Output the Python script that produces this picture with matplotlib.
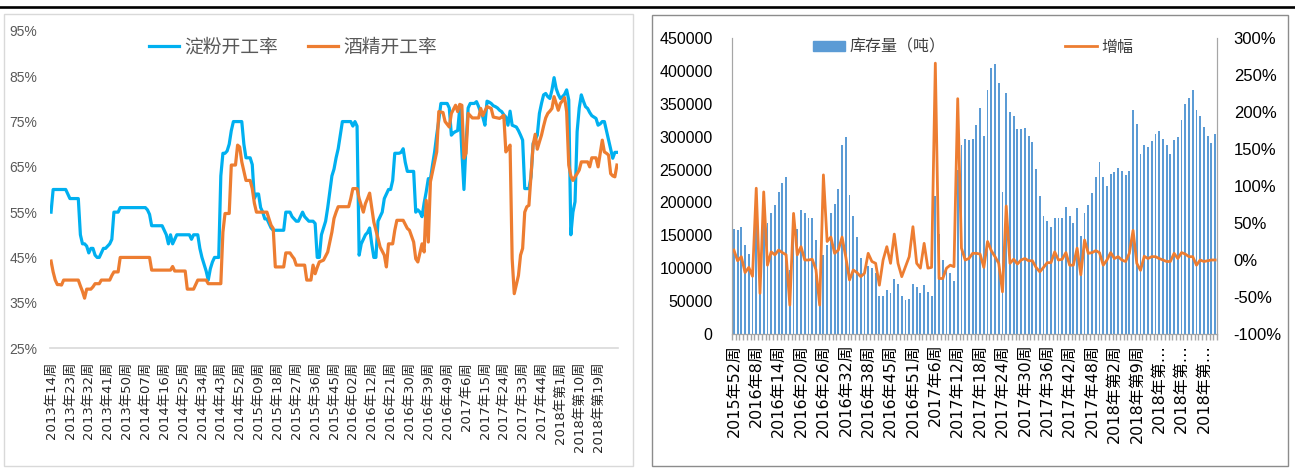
import numpy as np
import matplotlib.pyplot as plt
from matplotlib.patches import Rectangle, Patch
from matplotlib.lines import Line2D

plt.rcParams['font.family'] = ['Liberation Sans', 'Noto Sans CJK SC']

# ---- left chart: weekly operating rates (%) ----
starch = [55, 60, 60, 60, 60, 60, 60, 60, 59, 58,
          58, 58, 58, 58, 50, 48, 48, 47.5, 46, 47,
          47, 45.5, 45, 45, 46, 47, 47, 47.5, 48, 49,
          55, 55, 55, 56, 56, 56, 56, 56, 56, 56,
          56, 56, 56, 56, 56, 56, 55.5, 54.5, 52, 52,
          52, 52, 52, 52, 51, 50, 48, 50, 48, 49,
          50, 50, 50, 50, 50, 50, 50, 49, 50, 50,
          50, 47, 45, 43.5, 42, 40, 42.5, 44, 45, 45,
          45, 63, 68, 68, 68.5, 70, 73, 75, 75, 75,
          75, 75, 70, 67, 67, 67, 65.5, 58, 59, 59,
          56, 55, 53.5, 53.5, 52.5, 51.5, 51, 51, 51, 51,
          51, 51, 55, 55, 55, 54, 53.5, 53, 53, 54,
          55, 54, 53.5, 53, 53, 53, 52.5, 45, 45, 50,
          51.5, 53, 56, 59.5, 63, 64.5, 67, 69, 72, 75,
          75, 75, 75, 75, 74, 75, 74, 45.5, 48, 49,
          50, 50.5, 51.5, 48, 45, 45, 53, 54, 55, 58,
          59, 60, 60, 62, 68, 68, 68, 68.2, 69, 66,
          64, 64, 64, 64, 55, 55.5, 55, 54, 57, 59.5,
          62.4, 62.3, 65.4, 68.3, 72, 75.3, 79, 79, 79, 79,
          78, 72, 72.5, 72.8, 73, 78, 68.3, 60, 70, 78,
          79, 79, 79, 79.4, 78.3, 77, 76, 74.2, 79.5, 79.3,
          79, 78.5, 78.3, 78, 77.5, 77.2, 76.5, 76, 74.2, 77.3,
          74.2, 74, 73.8, 73, 72, 70.9, 60.2, 60.2, 60.2, 62.8,
          70.2, 71, 72, 76.8, 79, 80.9, 81.2, 80.5, 80.1, 82,
          84.7, 82.3, 81, 80.1, 80.5, 81, 82, 79.8, 50, 55,
          57.3, 72.8, 78, 80.9, 79.5, 78.3, 77.9, 77, 76.3, 76,
          75.7, 74.2, 74.5, 75, 75, 73, 70.9, 69, 66.9, 68.2,
          68.2]

alcohol = [44.2, 41.8, 40, 39, 39, 38.9, 40, 40, 40, 40,
           40, 40, 40, 40, 38.7, 37.5, 36, 38, 38, 38,
           38.5, 39.2, 39.2, 39.2, 40, 40, 40, 40, 40, 41,
           41.8, 41.8, 41.8, 45, 45, 45, 45, 45, 45, 45,
           45, 45, 45, 45, 45, 45, 45, 45, 42.2, 42.2,
           42.2, 42.2, 42.2, 42.2, 42.2, 42.2, 42.2, 42.2, 43, 42,
           42, 42, 42, 42, 42, 38, 38, 38, 38, 39,
           40, 40, 40, 40, 40, 39.2, 39.2, 39.2, 39.2, 39.2,
           39.2, 39.2, 50.6, 54.7, 54.7, 54.7, 65.4, 65.4, 65.4, 69.8,
           69.4, 66.1, 64, 62, 62, 62, 60.2, 57, 55, 55,
           55, 55, 55, 55, 53.5, 52.1, 51.4, 42.9, 42.9, 42.9,
           42.9, 42.9, 46, 46, 46, 45.3, 44.7, 43.3, 43.3, 43.3,
           43.3, 43.3, 40, 40, 40, 43.3, 41.4, 42.8, 44, 44.2,
           44.4, 45.3, 46.2, 48.4, 50.6, 53.6, 55, 56.2, 56.2, 56.2,
           56.2, 56.2, 56.2, 58, 60.2, 60.2, 60.2, 58, 56.5, 55,
           56.9, 58, 59.2, 56, 52.8, 51, 49.2, 47.3, 46.4, 45.5,
           42.9, 48, 48, 48, 51, 53.2, 53.2, 53.2, 53.2, 52.3,
           51.4, 51, 49.7, 48.4, 44.7, 44, 46, 48, 46.2, 57.6,
           48.4, 61.7, 63.9, 66, 68.3, 77.2, 77.1, 77, 75, 74.4,
           73.8, 76.8, 77.7, 78.6, 77.2, 78.8, 78.6, 66.9, 68, 76.8,
           76.3, 75.8, 75.8, 75.8, 75.8, 77.9, 76.3, 77.3, 78.3, 78.1,
           77.9, 76, 75.9, 75.8, 75.7, 76, 76.4, 68.3, 69, 69.8,
           44.7, 37, 39, 41, 45.5, 47, 55, 56.2, 56.5, 63,
           69.8, 72.2, 68.9, 70.5, 72, 74, 75.8, 76.8, 77.3, 77.9,
           80.5, 79, 77.5, 79, 79.6, 80.3, 77.2, 65.4, 63, 62,
           62.8, 63.5, 64.3, 66.1, 66.1, 66.1, 66.1, 65, 67, 67,
           67, 65, 68, 70.9, 68.3, 68, 67.6, 63.5, 63, 62.8,
           65.4]

left_labels = ["2013年14周", "2013年23周", "2013年32周", "2013年41周", "2013年50周",
               "2014年07周", "2014年16周", "2014年25周", "2014年34周", "2014年43周",
               "2014年52周", "2015年09周", "2015年18周", "2015年27周", "2015年36周",
               "2015年45周", "2016年02周", "2016年12周", "2016年21周", "2016年30周",
               "2016年39周", "2016年49周", "2017年6周", "2017年15周", "2017年24周",
               "2017年33周", "2017年44周", "2018年第1周", "2018年第10周", "2018年第19周"]

# ---- right chart: inventory (t) and weekly change (%) ----
stock = [160000, 158000, 163000, 135000, 122000, 95000, 187000, 103000, 181000, 168000,
         184000, 196000, 216000, 230000, 239000, 97000, 158000, 160000, 188000, 184000,
         177000, 177000, 143000, 56000, 120000, 135000, 184000, 198000, 220000, 287000,
         299000, 212000, 179000, 147000, 115000, 97000, 104000, 100000, 92000, 58000,
         58000, 67000, 62000, 83000, 76000, 58000, 51000, 53000, 76000, 72000,
         62000, 74000, 64000, 58000, 210000, 152000, 112000, 101000, 93000, 80000,
         250000, 288000, 296000, 295000, 297000, 318000, 343000, 301000, 371000, 405000,
         411000, 382000, 216000, 366000, 338000, 331000, 311000, 311000, 313000, 301000,
         292000, 251000, 210000, 179000, 172000, 163000, 177000, 177000, 177000, 193000,
         179000, 168000, 191000, 149000, 184000, 196000, 214000, 238000, 261000, 238000,
         225000, 244000, 247000, 253000, 248000, 242000, 248000, 340000, 319000, 274000,
         287000, 285000, 294000, 304000, 308000, 297000, 287000, 274000, 295000, 299000,
         325000, 350000, 359000, 371000, 340000, 331000, 315000, 301000, 290000, 304000]

growth = [13.5, -1, 4.5, -17, -10, -22, 97, -45, 92, -7,
          11, 7, 13.5, 10, 7, -61, 63, 7, 18, 0,
          0, 1, -13, -61, 115, 25, 31, 9, 13.5, 31,
          4, -27, -13.5, -17, -22.5, -18, 9, -2, -4.5, -34,
          0, 18, -4.5, 35, -4.5, -22.5, -9, 4.5, 45, -4.5,
          -11, 22.5, -11, -10, 266, -25, -25, -11, -7, -9,
          218, 16, 0, 2, 9, 9, 8, -10, 25, 12.6,
          4.5, -4.5, -43, 73, -4.5, 1, -5.4, 0, 2, -1,
          -1, -10, -16, -10, -3.6, -3.6, 11, 0, 1, 10,
          -7, -7, 16, -20, 27, 9, 10, 12.6, 10, -7,
          0, 10, 2, 4.5, 0, -2, 9, 40, -4.5, -14,
          5, 2, 4.5, 4.5, 2, 0, -2, -2, 9, 2,
          10, 8, 4.5, 4.5, -7, 0, -2, -1, 0, 0]

right_labels = ["2015年52周", "2016年8周", "2016年14周", "2016年20周", "2016年26周",
                "2016年32周", "2016年38周", "2016年45周", "2016年51周", "2017年6周",
                "2017年12周", "2017年18周", "2017年24周", "2017年30周", "2017年36周",
                "2017年42周", "2017年48周", "2018年第2周", "2018年第9周", "2018年第…",
                "2018年第…", "2018年第…"]

assert len(starch) == len(alcohol)
assert len(stock) == len(growth)

W, H = 1295, 468
fig = plt.figure(figsize=(W / 100, H / 100), dpi=100)

# page rule and panel frames
fig.add_artist(Line2D([0, 1], [1 - 7 / H] * 2, color='black', lw=1.9, transform=fig.transFigure))
fig.add_artist(Rectangle((4 / W, 2 / H), 629 / W, 452 / H, fill=False, ec='#D9D9D9', lw=1,
                         transform=fig.transFigure))
fig.add_artist(Rectangle((652 / W, 2 / H), 636 / W, 451 / H, fill=False, ec='#8C8C8C', lw=1,
                         transform=fig.transFigure))

lab_font = ['DejaVu Sans', 'Noto Sans CJK SC']

# ---- left ----
ax1 = fig.add_axes([50 / W, (H - 348) / H, 568 / W, 317 / H])
x1 = np.arange(len(starch))
ax1.plot(x1, starch, color='#00B0F0', lw=2.3, label='淀粉开工率')
ax1.plot(x1, alcohol, color='#ED7D31', lw=2.3, label='酒精开工率')
ax1.set_xlim(-0.5, len(starch) - 0.5)
ax1.set_ylim(25, 95)
yt = list(range(25, 96, 10))
ax1.set_yticks(yt)
ax1.set_yticklabels([f'{v}%' for v in yt], color='#595959', fontsize=10)
ax1.set_xticks(x1[::9][:len(left_labels)])
ax1.set_xticklabels(left_labels, rotation=90, fontsize=9.5, family=lab_font, color='#262626')
ax1.tick_params(axis='both', length=0)
ax1.tick_params(axis='y', pad=9)
ax1.tick_params(axis='x', pad=10)
for s in ['top', 'right', 'left']:
    ax1.spines[s].set_visible(False)
ax1.spines['bottom'].set_color('#D9D9D9')
ax1.spines['bottom'].set_linewidth(1.2)
fig.legend(handles=ax1.get_lines(), loc='center', bbox_to_anchor=(293 / W, 1 - 48 / H),
           ncol=2, frameon=False, fontsize=13.5, handlelength=1.6, handletextpad=0.3,
           columnspacing=1.6, labelcolor='#595959')

# ---- right ----
ax2 = fig.add_axes([732 / W, (H - 334) / H, 485 / W, 296 / H])
x2 = np.arange(len(stock))
ax2.bar(x2, stock, width=0.5, color='#5B9BD5', label='库存量（吨）')
ax2.set_xlim(-0.5, len(stock) - 0.5)
ax2.set_ylim(0, 450000)
ax2.set_yticks(range(0, 450001, 50000))
ax2.tick_params(axis='y', length=0, labelsize=11.5, pad=14)
ax2.set_xticks(x2[::6][:len(right_labels)])
ax2.set_xticklabels(right_labels, rotation=90, fontsize=11.5, family=lab_font)
ax2.set_xticks(np.arange(-0.5, len(stock), 1), minor=True)
ax2.tick_params(axis='x', which='major', length=0, pad=7)
ax2.tick_params(axis='x', which='minor', length=4, color='#A6A6A6', width=1)
ax2.spines['top'].set_visible(False)
for s in ['left', 'right', 'bottom']:
    ax2.spines[s].set_color('#A6A6A6')

ax3 = ax2.twinx()
ax3.plot(x2, growth, color='#ED7D31', lw=2.0, label='增幅')
ax3.set_ylim(-100, 300)
ax3.set_yticks(range(-100, 301, 50))
ax3.set_yticklabels([f'{v}%' for v in range(-100, 301, 50)])
ax3.tick_params(axis='y', length=0, labelsize=12, pad=12)
ax3.spines['top'].set_visible(False)
for s in ['left', 'right', 'bottom']:
    ax3.spines[s].set_color('#A6A6A6')

fig.legend(handles=[Patch(color='#5B9BD5', label='库存量（吨）'), ax3.get_lines()[0]],
           loc='center', bbox_to_anchor=(973 / W, 1 - 47 / H), ncol=2, frameon=False,
           fontsize=11.5, handlelength=2.0, handleheight=0.6, handletextpad=0.25,
           columnspacing=7.5, labelcolor='#404040')

fig.savefig('out.png', dpi=100)
